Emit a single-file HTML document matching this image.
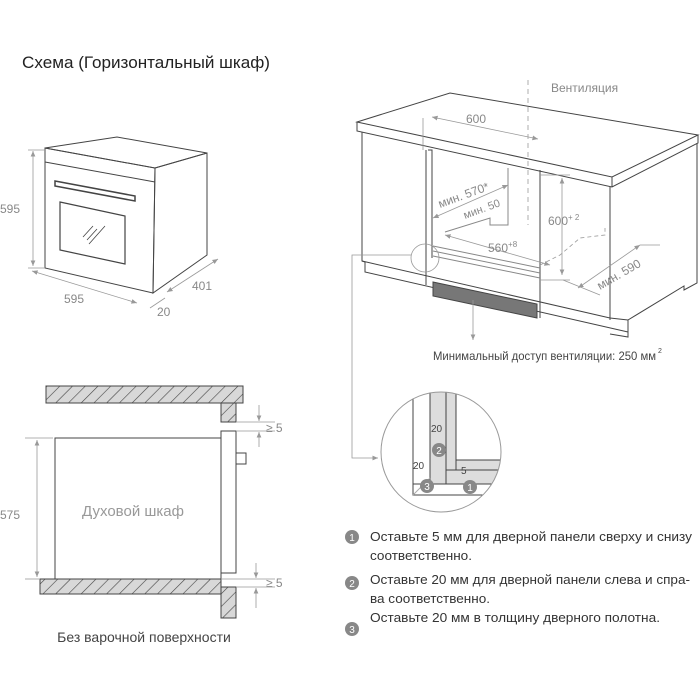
<!DOCTYPE html>
<html><head><meta charset="utf-8"><style>
html,body{margin:0;padding:0;background:#fff;}
svg{display:block;font-family:"Liberation Sans Narrow","Liberation Sans",sans-serif;}
</style></head><body>
<svg width="700" height="700" viewBox="0 0 700 700" xmlns="http://www.w3.org/2000/svg">
<defs>
<pattern id="h" width="9" height="9" patternUnits="userSpaceOnUse" patternTransform="rotate(45)">
<rect width="9" height="9" fill="#d8d8d8"/><line x1="0" y1="0" x2="0" y2="9" stroke="#444" stroke-width="1.2"/></pattern>
<marker id="a" markerWidth="8" markerHeight="8" refX="7" refY="4" orient="auto"><path d="M0,1 L7,4 L0,7z" fill="#999"/></marker>
<marker id="b" markerWidth="8" markerHeight="8" refX="1" refY="4" orient="auto"><path d="M8,1 L1,4 L8,7z" fill="#999"/></marker>
<clipPath id="c"><circle cx="441" cy="452" r="60"/></clipPath>
</defs>
<text x="22" y="68" font-size="17" fill="#222" textLength="248" lengthAdjust="spacingAndGlyphs">Схема (Горизонтальный шкаф)</text>

<!-- oven iso -->
<g fill="none" stroke="#444" stroke-width="1">
<path d="M45,148 L117,137 L207,153 L155,168 Z" fill="#fff"/>
<path d="M155,168 L207,153 L207,255 L153,293 Z"/>
<path d="M45,148 L155,168 L153,293 L45,268 Z"/>
<path d="M45,162 L155,182"/>
<path d="M55,181 L135,196 L135,201 L55,186 Z" stroke-width="1.5"/>
<path d="M60,202 L125,216 L125,264 L60,250 Z" stroke-width="1.2"/>
<path d="M83,237 L93,226 M87,240 L97,229 M89,244 L105,226" stroke-width="0.8"/>
</g>
<g stroke="#999" stroke-width="0.8" fill="none">
<line x1="33" y1="151" x2="33" y2="266" marker-start="url(#b)" marker-end="url(#a)"/>
<line x1="28" y1="150" x2="45" y2="150"/><line x1="28" y1="268" x2="45" y2="268"/>
<line x1="32" y1="271" x2="137" y2="303" marker-start="url(#b)" marker-end="url(#a)"/>
<line x1="167" y1="292" x2="218" y2="259" marker-start="url(#b)" marker-end="url(#a)"/>
<line x1="150" y1="308" x2="165" y2="298"/>
</g>
<g fill="#888" font-size="12">
<text x="0" y="213">595</text><text x="64" y="303">595</text>
<text x="192" y="290">401</text><text x="157" y="316">20</text>
</g>

<!-- cabinet -->
<g fill="none" stroke="#444" stroke-width="1">
<path d="M357,122 L450,93 L698,135 L612,177 Z" fill="#fff"/>
<path d="M357,122 L357,131 L612,187 L698,143 L698,135"/>
<path d="M612,177 L612,187"/>
<path d="M362,132 L362,261 L365,262 L365,272 L628,332"/>
<path d="M362,261 L610,318"/>
<path d="M610,187 L610,320"/>
<path d="M697,143 L697,283 L684,290 L684,286 L628,320 L628,337 L610,334"/>
<path d="M628,320 L610,318"/>
<path d="M426,150 L426,285 M540,170 L540,318"/>
<path d="M428,150 L432,150 L432,258"/>
<path d="M433,282 L537,304 L537,318 L433,296 Z" fill="#777"/>
<path d="M508,168 L508,225 L490,225 L490,218 L445,232" stroke="#888"/>
<path d="M433,246 L540,268 M433,251 L540,273 M433,256 L540,278" stroke="#888"/>
</g>
<g stroke="#999" stroke-width="0.8" fill="none">
<line x1="528" y1="80" x2="528" y2="225" stroke-dasharray="5,4"/>
<line x1="432" y1="117" x2="538" y2="139" marker-start="url(#b)" marker-end="url(#a)"/>
<line x1="423" y1="118" x2="423" y2="150"/>
<line x1="433" y1="218" x2="508" y2="185" marker-start="url(#b)" marker-end="url(#a)"/>
<line x1="445" y1="235" x2="550" y2="265" marker-start="url(#b)" marker-end="url(#a)"/>
<line x1="562" y1="178" x2="562" y2="275" marker-start="url(#b)" marker-end="url(#a)"/>
<path d="M540,175 L570,175 M540,280 L570,280" />
<path d="M540,265 L560,255 L580,238 L605,235 L605,228" stroke-dasharray="4,3"/>
<line x1="578" y1="288" x2="640" y2="245" marker-start="url(#b)" marker-end="url(#a)"/>
<line x1="563" y1="280" x2="600" y2="295"/><line x1="640" y1="245" x2="660" y2="245"/>
<line x1="473" y1="300" x2="473" y2="340" marker-end="url(#a)"/>
<circle cx="425" cy="258" r="14"/>
<path d="M411,255 L352,255 L352,458 L378,458" marker-end="url(#a)"/>
</g>
<g fill="#888" font-size="12">
<text x="551" y="92">Вентиляция</text>
<text x="466" y="123">600</text>
<text x="440" y="208" transform="rotate(-20 440 208)">мин. 570*</text>
<text x="465" y="219" transform="rotate(-20 465 219)" font-size="11">мин. 50</text>
<text x="548" y="225">600<tspan font-size="8" dy="-5">+ 2</tspan></text>
<text x="488" y="252">560<tspan font-size="8" dy="-5">+8</tspan></text>
<text x="600" y="290" transform="rotate(-30 600 290)">мин. 590</text>
</g>
<text x="433" y="360" font-size="12" fill="#444" textLength="223" lengthAdjust="spacingAndGlyphs">Минимальный доступ вентиляции: 250 мм</text>
<text x="658" y="353" font-size="7" fill="#444">2</text>

<!-- detail circle -->
<g clip-path="url(#c)">
<rect x="380" y="390" width="125" height="125" fill="#fff"/>
<path d="M413,392 L413,495 L510,495" fill="none" stroke="#444"/>
<rect x="430" y="392" width="16" height="92" fill="#ddd" stroke="#444"/>
<rect x="446" y="392" width="10" height="78" fill="#ddd" stroke="#444"/>
<rect x="456" y="460" width="50" height="10" fill="#ddd" stroke="#444"/>
<rect x="446" y="470" width="60" height="14" fill="#ddd" stroke="#444"/>
<line x1="413" y1="484" x2="510" y2="484" stroke="#444"/>
<line x1="413" y1="495" x2="430" y2="478" stroke="#aaa"/>
<text x="431" y="432" font-size="10" fill="#444">20</text>
<text x="413" y="469" font-size="10" fill="#444">20</text>
<text x="461" y="474" font-size="10" fill="#444">5</text>
<circle cx="439" cy="450" r="7" fill="#888"/><text x="439" y="454" font-size="10" fill="#fff" text-anchor="middle">2</text>
<circle cx="427" cy="486" r="7" fill="#888"/><text x="427" y="490" font-size="10" fill="#fff" text-anchor="middle">3</text>
<circle cx="470" cy="487" r="7" fill="#888"/><text x="470" y="491" font-size="10" fill="#fff" text-anchor="middle">1</text>
</g>
<circle cx="441" cy="452" r="60" fill="none" stroke="#999"/>

<!-- legend -->
<g font-size="13" fill="#333">
<circle cx="352" cy="537" r="7" fill="#888"/><text x="352" y="541" font-size="10" fill="#fff" text-anchor="middle">1</text>
<circle cx="352" cy="583" r="7" fill="#888"/><text x="352" y="587" font-size="10" fill="#fff" text-anchor="middle">2</text>
<circle cx="352" cy="629" r="7" fill="#888"/><text x="352" y="633" font-size="10" fill="#fff" text-anchor="middle">3</text>
<text x="370" y="541" textLength="322" lengthAdjust="spacingAndGlyphs">Оставьте 5 мм для дверной панели сверху и снизу</text>
<text x="370" y="560" textLength="102" lengthAdjust="spacingAndGlyphs">соответственно.</text>
<text x="370" y="584" textLength="320" lengthAdjust="spacingAndGlyphs">Оставьте 20 мм для дверной панели слева и спра-</text>
<text x="370" y="603" textLength="120" lengthAdjust="spacingAndGlyphs">ва соответственно.</text>
<text x="370" y="622" textLength="290" lengthAdjust="spacingAndGlyphs">Оставьте 20 мм в толщину дверного полотна.</text>
</g>

<!-- section -->
<g stroke="#444" stroke-width="1">
<rect x="46" y="386" width="197" height="17" fill="url(#h)"/>
<rect x="221" y="403" width="15" height="19" fill="url(#h)"/>
<rect x="40" y="579" width="181" height="15" fill="url(#h)"/>
<rect x="221" y="587" width="15" height="31" fill="url(#h)"/>
<rect x="55" y="438" width="166" height="141" fill="#fff"/>
<rect x="221" y="431" width="15" height="142" fill="#fff"/>
<rect x="236" y="453" width="10" height="11" fill="#fff"/>
</g>
<g stroke="#999" stroke-width="0.8" fill="none">
<line x1="37" y1="440" x2="37" y2="577" marker-start="url(#b)" marker-end="url(#a)"/>
<line x1="25" y1="438" x2="53" y2="438"/><line x1="25" y1="579" x2="40" y2="579"/>
<line x1="236" y1="422" x2="275" y2="422"/><line x1="236" y1="431" x2="275" y2="431"/>
<line x1="259" y1="405" x2="259" y2="421" marker-end="url(#a)"/><line x1="259" y1="447" x2="259" y2="432" marker-end="url(#a)"/>
<line x1="221" y1="579" x2="275" y2="579"/><line x1="236" y1="587" x2="275" y2="587"/>
<line x1="256" y1="563" x2="256" y2="578" marker-end="url(#a)"/><line x1="256" y1="608" x2="256" y2="588" marker-end="url(#a)"/>
</g>
<g fill="#888" font-size="12">
<text x="0" y="519">575</text>
<text x="266" y="432">≥  5</text><text x="266" y="587">≥  5</text>
</g>
<text x="133" y="516" font-size="15" fill="#999" text-anchor="middle">Духовой шкаф</text>
<text x="144" y="642" font-size="14" fill="#444" text-anchor="middle">Без варочной поверхности</text>
</svg>
</body></html>
